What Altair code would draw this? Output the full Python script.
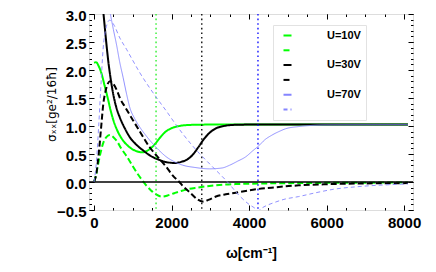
import altair as alt
import pandas as pd

# ---------------- data ----------------
names = ["U=10V", "U=10V Im", "U=30V", "U=30V Im", "U=70V", "U=70V Im"]

g_re_w = [0, 50, 120, 200, 280, 350, 420, 500, 600, 750, 900, 1100, 1250, 1400, 1550, 1700, 1850, 2000, 2200, 2500, 3000, 8100]
g_re_v = [2.13, 2.14, 2.07, 1.92, 1.70, 1.51, 1.30, 1.10, 0.92, 0.74, 0.63, 0.55, 0.53, 0.57, 0.66, 0.79, 0.90, 0.96, 1.00, 1.02, 1.025, 1.025]

g_im_w = [0, 50, 100, 154, 250, 330, 410, 500, 600, 700, 850, 1000, 1150, 1300, 1470, 1600, 1750, 1900, 2070, 2250, 2410, 2660, 2975, 3400, 3740, 4500, 6000, 8100]
g_im_v = [0.0, 0.12, 0.30, 0.48, 0.72, 0.81, 0.84, 0.80, 0.72, 0.60, 0.45, 0.28, 0.12, -0.02, -0.15, -0.22, -0.26, -0.24, -0.20, -0.16, -0.13, -0.10, -0.07, -0.045, -0.035, -0.025, -0.015, -0.01]

b_re_w = [150, 239, 300, 367, 430, 495, 580, 667, 800, 923, 1100, 1265, 1450, 1700, 1900, 2100, 2250, 2400, 2550, 2700, 2850, 3000, 3150, 3350, 3600, 4000, 8100]
b_re_v = [3.65, 3.04, 2.60, 2.16, 1.84, 1.57, 1.32, 1.15, 0.95, 0.80, 0.66, 0.565, 0.47, 0.39, 0.35, 0.34, 0.36, 0.40, 0.49, 0.63, 0.78, 0.89, 0.96, 1.00, 1.02, 1.025, 1.025]

b_im_w = [0, 60, 120, 180, 240, 300, 410, 500, 600, 667, 800, 1008, 1200, 1436, 1641, 1863, 2050, 2200, 2290, 2496, 2667, 2803, 2950, 3146, 3400, 3658, 4171, 4684, 5282, 6000, 7000, 8100]
b_im_v = [0.0, 0.15, 0.50, 0.95, 1.40, 1.63, 1.80, 1.75, 1.62, 1.50, 1.34, 1.10, 0.88, 0.62, 0.45, 0.27, 0.10, 0.0, -0.07, -0.20, -0.31, -0.35, -0.32, -0.26, -0.22, -0.19, -0.13, -0.094, -0.06, -0.04, -0.025, -0.02]

u_re_w = [300, 410, 500, 581, 660, 752, 840, 923, 1050, 1180, 1350, 1521, 1700, 1863, 2050, 2290, 2600, 2975, 3300, 3500, 3700, 3914, 4100, 4256, 4400, 4598, 4800, 4940, 5282, 5600, 6000, 8100]
u_re_v = [3.45, 3.04, 2.72, 2.45, 2.15, 1.86, 1.57, 1.33, 1.13, 0.98, 0.82, 0.68, 0.55, 0.45, 0.37, 0.30, 0.26, 0.235, 0.25, 0.30, 0.37, 0.45, 0.56, 0.65, 0.75, 0.84, 0.91, 0.95, 0.99, 1.01, 1.02, 1.025]

u_im_w = [0, 60, 120, 180, 231, 300, 400, 500, 667, 838, 1008, 1200, 1436, 1650, 1863, 2076, 2290, 2500, 2718, 2930, 3146, 3444, 3743, 4000, 4171, 4230, 4300, 4450, 4598, 4900, 5282, 5667, 6180, 6864, 7718, 8100]
u_im_v = [0.0, 0.35, 1.00, 1.75, 2.35, 2.72, 2.89, 2.82, 2.57, 2.37, 2.16, 1.93, 1.68, 1.47, 1.27, 1.06, 0.86, 0.68, 0.51, 0.36, 0.21, 0.0, -0.24, -0.40, -0.48, -0.52, -0.48, -0.42, -0.38, -0.31, -0.26, -0.20, -0.13, -0.08, -0.045, -0.035]

vline_w = [1600, 2780, 4230]

x_major = [0, 2000, 4000, 6000, 8000]
x_minor = [500 * i for i in range(17)]
y_major = [-0.5, 0.0, 0.5, 1.0, 1.5, 2.0, 2.5, 3.0]
y_minor = [round(-0.5 + 0.1 * i, 1) for i in range(36)]

# ---------------- styles ----------------
colors = ["#00ff00", "#00ff00", "#000000", "#000000", "#8585ff", "#8585ff"]
dashes = [[1, 0], [6, 3], [1, 0], [6, 3], [1, 0], [4, 3]]
thin_series = ["U=70V", "U=70V Im"]
vline_colors = ["#22ee22", "#000000", "#0000ff"]
FONT = "Liberation Sans"

series = [(g_re_w, g_re_v), (g_im_w, g_im_v), (b_re_w, b_re_v),
          (b_im_w, b_im_v), (u_re_w, u_re_v), (u_im_w, u_im_v)]
rows = []
for name, (ws, vs) in zip(names, series):
    for w, v in zip(ws, vs):
        rows.append({"s": name, "w": w, "v": v})
df = pd.DataFrame(rows)
df_thick = df[~df["s"].isin(thin_series)]
df_thin = df[df["s"].isin(thin_series)]
vdf = pd.DataFrame({"w": vline_w, "c": vline_colors})
zdf = pd.DataFrame({"v": [0.0]})

x_scale = alt.Scale(domain=[-130, 8230], nice=False, zero=False)
y_scale = alt.Scale(domain=[-0.5, 3.0], nice=False, zero=False)

pad = "\u00a0" * 11
legend = alt.Legend(
    orient="none", legendX=184, legendY=11, title=None,
    symbolType="stroke", symbolSize=64, symbolStrokeWidth=2,
    labelFont=FONT, labelFontWeight="bold", labelFontSize=11, labelColor="black",
    labelOffset=34, symbolOffset=4, padding=5, rowPadding=2.8,
    strokeColor="#e2e2e2", fillColor="white",
    labelExpr="indexof(datum.label, 'Im') >= 0 ? '' : datum.label + '" + pad + "'",
)
color_enc = alt.Color("s:N", scale=alt.Scale(domain=names, range=colors), legend=legend)
dash_enc = alt.StrokeDash("s:N", scale=alt.Scale(domain=names, range=dashes), legend=legend)

main_x_axis = alt.Axis(orient="bottom", values=x_major, format="d", offset=-5, tickSize=5,
                       tickColor="black", tickWidth=1, labelPadding=5, domain=False, grid=False,
                       labelFont=FONT, labelFontWeight="bold", labelFontSize=15, labelColor="black",
                       title="ω[cm⁻¹]", titleFont=FONT, titleFontSize=14, titleFontWeight="bold",
                       titleColor="black", titlePadding=16)
main_y_axis = alt.Axis(orient="left", values=y_major, format=".1f", offset=-5, tickSize=5,
                       tickColor="black", tickWidth=1, labelPadding=3, labelOffset=1, domain=False,
                       grid=False, labelFont=FONT, labelFontWeight="bold", labelFontSize=15,
                       labelColor="black", title="σₓₓ[ge²/16ħ]", titleFont="DejaVu Sans",
                       titleFontSize=12, titleFontWeight="normal", titleColor="black",
                       titleAngle=270, titleAlign="center", titleBaseline="middle",
                       titleX=-43, titleY=90)

thick = alt.Chart(df_thick).mark_line(clip=True, interpolate="monotone", strokeWidth=2).encode(
    x=alt.X("w:Q", scale=x_scale, axis=main_x_axis),
    y=alt.Y("v:Q", scale=y_scale, axis=main_y_axis),
    color=color_enc,
    strokeDash=dash_enc,
)
thin = alt.Chart(df_thin).mark_line(clip=True, interpolate="monotone", strokeWidth=0.9).encode(
    x=alt.X("w:Q", scale=x_scale, axis=None),
    y=alt.Y("v:Q", scale=y_scale, axis=None),
    color=color_enc,
    strokeDash=dash_enc,
)

vlines = alt.Chart(vdf).mark_rule(strokeDash=[1.6, 3], strokeWidth=1.3).encode(
    x=alt.X("w:Q", scale=x_scale, axis=None),
    color=alt.Color("c:N", scale=None),
)

zero = alt.Chart(zdf).mark_rule(color="black", strokeWidth=1.5).encode(
    y=alt.Y("v:Q", scale=y_scale, axis=None),
)


def tick_layer(xo, yo, xv, yv, size):
    xa = alt.Axis(orient=xo, values=xv, tickSize=size, offset=-size, labels=False, domain=False,
                  grid=False, title="", tickColor="black", tickWidth=1)
    ya = alt.Axis(orient=yo, values=yv, tickSize=size, offset=-size, labels=False, domain=False,
                  grid=False, title="", tickColor="black", tickWidth=1)
    return alt.Chart(df).mark_point(opacity=0, size=1).encode(
        x=alt.X("w:Q", scale=x_scale, axis=xa),
        y=alt.Y("v:Q", scale=y_scale, axis=ya),
    )


chart = alt.layer(
    thick, vlines, zero, thin,
    tick_layer("bottom", "left", x_minor, y_minor, 2.5),
    tick_layer("top", "right", x_major, y_major, 5),
    tick_layer("top", "right", x_minor, y_minor, 2.5),
).resolve_axis(x="independent", y="independent").properties(
    width=324, height=196,
    padding={"left": 81, "top": 6, "right": 12, "bottom": 60},
    autosize=alt.AutoSizeParams(type="none"),
).configure_view(stroke="black", strokeWidth=1.5).configure(background="white")

chart.save("out.html", embed_options={"renderer": "svg", "actions": False})
